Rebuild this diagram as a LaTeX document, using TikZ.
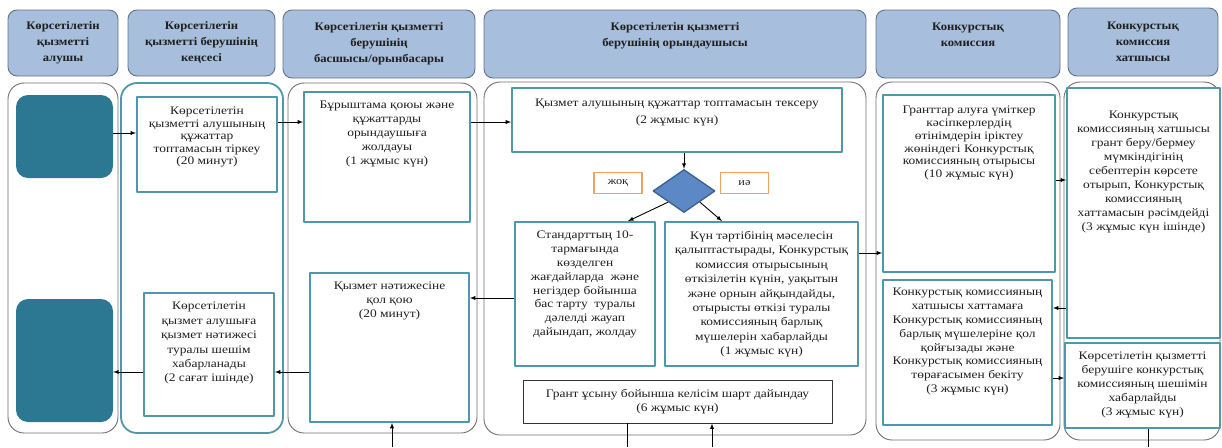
\documentclass[tikz,border=0pt]{standalone}
\usepackage{fontspec}
\setmainfont[FakeStretch=1.17]{Liberation Serif}
\newfontfamily\headfam[FakeStretch=1.1]{Liberation Serif}
\usetikzlibrary{positioning,shapes.geometric}
\definecolor{headblue}{RGB}{167,190,220}
\definecolor{headline}{RGB}{100,115,135}
\definecolor{laneline}{RGB}{110,110,118}
\definecolor{boxteal}{RGB}{78,152,170}
\definecolor{termteal}{RGB}{44,119,146}
\definecolor{diafill}{RGB}{92,136,198}
\definecolor{dialine}{RGB}{62,98,150}
\definecolor{lblorange}{RGB}{246,160,90}
\newcommand\boxfont{\fontsize{11.5}{13.8}\selectfont}
\newcommand\headfont{\headfam\fontsize{11.5}{16}\selectfont\bfseries}
\tikzset{
 head/.style={draw=headline, fill=headblue, rounded corners=9pt, line width=.9pt, align=center, font=\headfont, inner sep=0pt},
 lane/.style={draw=laneline, rounded corners=16pt, line width=.9pt, inner sep=0pt},
 box/.style={draw=boxteal, fill=white, line width=1.8pt, inner sep=0pt},
 term/.style={fill=termteal, rounded corners=12pt, inner sep=0pt},
 txt/.style={align=center, inner sep=0pt, font=\boxfont},
 lbl/.style={draw=lblorange, line width=1.6pt, inner sep=0pt, minimum width=48pt, minimum height=21pt, font=\fontsize{10.5}{11}\selectfont},
}
\begin{document}
\begin{tikzpicture}[x=1pt, y=-1pt, >=latex, text=black!88, line join=round]
 \useasboundingbox (0,0) rectangle (1222,447);
 % headers
 \node[head, minimum width=110pt, minimum height=66pt] (h1) at (63,43) {Көрсетілетін\\қызметті\\алушы};
 \node[head, minimum width=147pt, minimum height=66pt] (h2) at (201.5,43) {Көрсетілетін\\қызметті берушінің\\кеңсесі};
 \node[head, minimum width=192pt, minimum height=68pt] (h3) at (379,44) {Көрсетілетін қызметті\\берушінің\\басшысы/орынбасары};
 \node[head, minimum width=382pt, minimum height=68pt] (h4) at (675,44) {};
 \node[txt, font=\headfont, below=13pt of h4.north] (th4) {Көрсетілетін қызметті\\берушінің орындаушысы};
 \node[head, minimum width=184pt, minimum height=68pt] (h5) at (968,44) {};
 \node[txt, font=\headfont, below=13pt of h5.north] (th5) {Конкурстық\\комиссия};
 \node[head, minimum width=150pt, minimum height=68pt] (h6) at (1143,42) {Конкурстық\\комиссия\\хатшысы};
 % lanes
 \node[lane, minimum width=110pt, minimum height=350pt] (l1) at (63,258) {};
 \node[lane, draw=boxteal, line width=1.8pt, minimum width=162pt, minimum height=350pt] (l2) at (202,258) {};
 \node[lane, minimum width=189pt, minimum height=350pt] (l3) at (382.5,258) {};
 \node[lane, minimum width=382pt, minimum height=353pt] (l4) at (675,258.5) {};
 \node[lane, minimum width=184pt, minimum height=358pt] (l5) at (968,261) {};
 \node[lane, minimum width=156pt, minimum height=358pt] (l6) at (1142,261) {};
 % start and end
 \node[term, minimum width=97pt, minimum height=83pt] (t1) at (64.5,136.5) {};
 \node[term, minimum width=97pt, minimum height=123pt] (t2) at (64.5,360.5) {};
 % steps
 \node[box, minimum width=140pt, minimum height=95pt] (bA) at (207,144.5) {};
 \node[txt, font=\fontsize{11.5}{12.4}\selectfont, below=11pt of bA.north] (tA) {Көрсетілетін\\қызметті алушының\\құжаттар\\топтамасын тіркеу\\(20 минут)};
 \node[box, minimum width=130pt, minimum height=123pt] (bB) at (209,354.5) {};
 \node[txt, font=\fontsize{11.5}{14.4}\selectfont, below=10pt of bB.north] (tB) {Көрсетілетін\\қызмет алушыға\\қызмет нәтижесі\\туралы шешім\\хабарланады\\(2 сағат ішінде)};
 \node[box, minimum width=166pt, minimum height=130pt] (bC) at (387,157) {};
 \node[txt, below=10pt of bC.north] (tC) {Бұрыштама қоюы және\\құжаттарды\\орындаушыға\\жолдауы\\(1 жұмыс күн)};
 \node[box, minimum width=159pt, minimum height=149pt] (bD) at (389.5,347.5) {};
 \node[txt, below=10pt of bD.north] (tD) {Қызмет нәтижесіне\\қол қою\\(20 минут)};
 \node[box, minimum width=330pt, minimum height=64pt] (bE) at (677,120) {};
 \node[txt, below=12pt of bE.north] (tE) {Қызмет алушының құжаттар топтамасын тексеру\\[3pt](2 жұмыс күн)};
 \node[diamond, draw=dialine, fill=diafill, line width=1.4pt, minimum width=62pt, minimum height=43pt, inner sep=0pt] (dia) at (684,191) {};
 \node[lbl] (no) at (618,183) {жоқ};
 \node[lbl] (yes) at (744.5,183) {иә};
 \node[box, minimum width=140pt, minimum height=144pt] (bF) at (585,294) {};
 \node[txt, below=10pt of bF.north] (tF) {Стандарттың 10-\\тармағында\\көзделген\\жағдайларда\ \ және\\негіздер бойынша\\бас тарту\ \ туралы\\дәлелді жауап\\дайындап, жолдау};
 \node[box, minimum width=193pt, minimum height=144pt] (bG) at (761.5,294) {};
 \node[txt, font=\fontsize{11.5}{14.4}\selectfont, below=10pt of bG.north] (tG) {Күн тәртібінің мәселесін\\қалыптастырады, Конкурстық\\комиссия отырысының\\өткізілетін күнін, уақытын\\және орнын айқындайды,\\отырысты өткізі туралы\\комиссияның барлық\\мүшелерін хабарлайды\\(1 жұмыс күн)};
 \node[box, draw=black!80, line width=.9pt, minimum width=309pt, minimum height=43pt] (bH) at (677.5,401.5) {};
 \node[txt, below=10pt of bH.north] (tH) {Грант ұсыну бойынша келісім шарт дайындау\\(6 жұмыс күн)};
 \node[box, minimum width=172pt, minimum height=177pt] (bI) at (969,183.5) {};
 \node[txt, font=\fontsize{11.5}{12.7}\selectfont, below=12pt of bI.north] (tI) {Гранттар алуға үміткер\\кәсіпкерлердің\\өтінімдерін іріктеу\\жөніндегі Конкурстық\\комиссияның отырысы\\(10 жұмыс күн)};
 \node[box, minimum width=169pt, minimum height=145pt] (bJ) at (967.5,352.5) {};
 \node[txt, below=9pt of bJ.north] (tJ) {Конкурстық комиссияның\\хатшысы хаттамаға\\Конкурстық комиссияның\\барлық мүшелеріне қол\\қойғызады және\\Конкурстық комиссияның\\төрағасымен бекіту\\(3 жұмыс күн)};
 \node[box, minimum width=153pt, minimum height=250pt] (bK) at (1143.5,213) {};
 \node[txt, font=\fontsize{11.5}{14}\selectfont, below=24pt of bK.north] (tK) {Конкурстық\\комиссияның хатшысы\\грант беру/бермеу\\мүмкіндігінің\\себептерін көрсете\\отырып, Конкурстық\\комиссияның\\хаттамасын рәсімдейді\\(3 жұмыс күн ішінде)};
 \node[box, minimum width=155pt, minimum height=85pt] (bL) at (1142.5,385.5) {};
 \node[txt, below=10pt of bL.north] (tL) {Көрсетілетін қызметті\\берушіге конкурстық\\комиссияның шешімін\\хабарлайды\\(3 жұмыс күн)};
 % free ends at the bottom edge
 \coordinate (outH) at (627,447);
 \coordinate (inH) at (712,447);
 \coordinate (inD) at (392,447);
 \coordinate (outL) at (1148,447);
 % connectors
 \begin{scope}[line width=.9pt]
 \draw[->] (t1.east |- 0,133) -- (bA.west |- 0,133);
 \draw[->] (bA.east |- 0,122) -- (bC.west |- 0,122);
 \draw[->] (bC.east |- 0,122) -- (bE.west |- 0,122);
 \draw[->] (bE.south -| dia.north) -- (dia.north);
 \draw[->] (dia.south west) -- (bF.north -| 628,0);
 \draw[->] (dia.south east) -- (bG.north -| 722,0);
 \draw[->] (bG.east |- 0,253) -- (bI.west |- 0,253);
 \draw[->] (bI.east |- 0,180) -- (bK.west |- 0,180);
 \draw[->] (bK.west |- 0,308) -- (bJ.east |- 0,308);
 \draw[->] (bJ.east |- 0,378) -- (bL.west |- 0,378);
 \draw (bL.south -| outL) -- (outL);
 \draw[->] (bF.west |- 0,298) -- (bD.east |- 0,298);
 \draw[->] (inD) -- (inD |- bD.south);
 \draw[->] (bD.west |- 0,372) -- (bB.east |- 0,372);
 \draw[->] (bB.west |- 0,372) -- (t2.east |- 0,372);
 \draw (bH.south -| outH) -- (outH);
 \draw[->] (inH) -- (inH |- bH.south);
 \end{scope}
\end{tikzpicture}
\end{document}
